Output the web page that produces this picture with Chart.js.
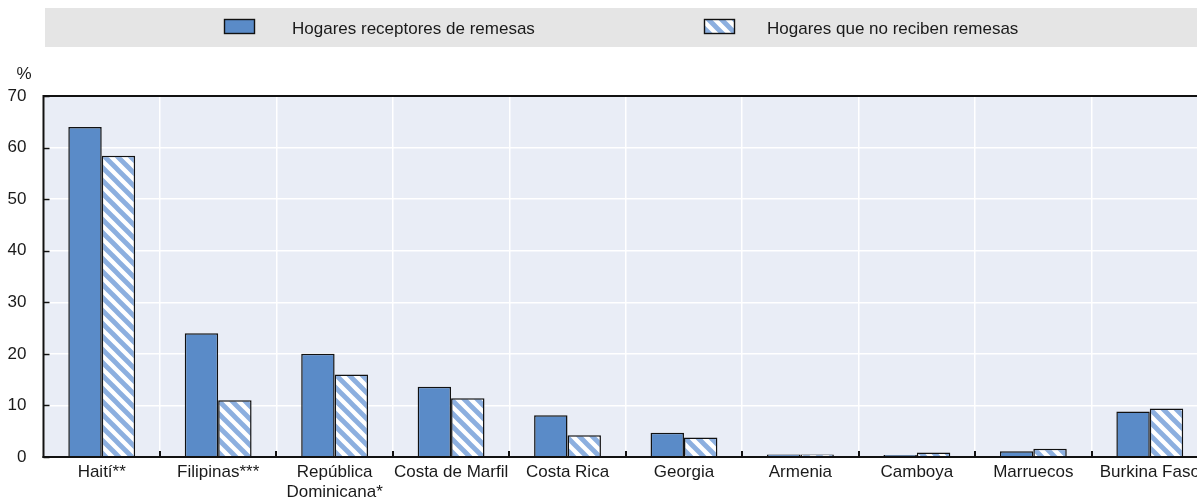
<!DOCTYPE html>
<html lang="es">
<head>
<meta charset="utf-8">
<title>Hogares y remesas</title>
<script src="https://cdn.jsdelivr.net/npm/chart.js@4/dist/chart.umd.min.js"></script>
<style>
  html, body { margin: 0; padding: 0; background: #ffffff; overflow: hidden; }
  #wrap { width: 1197px; height: 503px; overflow: hidden; position: relative; }
  #chart { display: block; }
</style>
</head>
<body>
<div id="wrap"><canvas id="chart" width="1210" height="503"></canvas></div>
<script>
// Countries along the horizontal axis
const categories = [
  'Haití**', 'Filipinas***', ['República', 'Dominicana*'], 'Costa de Marfil',
  'Costa Rica', 'Georgia', 'Armenia', 'Camboya', 'Marruecos', 'Burkina Faso'
];
// Share of households (%), by remittance status
const receptores = [64.0, 24.0, 20.0, 13.6, 8.1, 4.7, 0.5, 0.4, 1.1, 8.8];
const noReciben  = [58.4, 11.0, 16.0, 11.4, 4.2, 3.8, 0.5, 0.85, 1.6, 9.4];
const seriesNames = ['Hogares receptores de remesas', 'Hogares que no reciben remesas'];
const yTicks = [0, 10, 20, 30, 40, 50, 60, 70];
const unitLabel = '%';

const FAMILY = '"Liberation Sans", Arial, sans-serif';
const FONT_SIZE = 17;
const TEXT = '#1a1a1a';
const BLUE = '#5a8bc8';
const STRIPE = '#8cafdf';
const AXIS = '#111111';

// Diagonal "\" hatch used for the second series
function makeHatch() {
  const s = 13;
  const c = document.createElement('canvas');
  c.width = s; c.height = s;
  const g = c.getContext('2d');
  g.fillStyle = '#ffffff';
  g.fillRect(0, 0, s, s);
  g.strokeStyle = STRIPE;
  g.lineWidth = 4.8;
  g.lineCap = 'square';
  for (const off of [-s, 0, s]) {
    g.beginPath();
    g.moveTo(off, 0);
    g.lineTo(off + s, s);
    g.stroke();
  }
  return g.createPattern(c, 'repeat');
}
const hatch = makeHatch();

// Plot background, legend band, frame and inward tick marks
const decorPlugin = {
  id: 'decor',
  beforeDraw(chart) {
    const { ctx, chartArea: a } = chart;
    ctx.save();
    ctx.fillStyle = '#e9edf6';
    ctx.fillRect(a.left, a.top, a.right - a.left, a.bottom - a.top);

    // legend band
    ctx.fillStyle = '#e5e5e5';
    ctx.fillRect(45, 8, chart.width - 45, 39);
    const items = [
      { box: 224, text: 292, fill: BLUE },
      { box: 704, text: 767, fill: hatch }
    ];
    ctx.font = FONT_SIZE + 'px ' + FAMILY;
    ctx.textBaseline = 'alphabetic';
    ctx.textAlign = 'left';
    items.forEach((it, i) => {
      ctx.fillStyle = it.fill;
      ctx.fillRect(it.box, 19, 31, 15);
      ctx.strokeStyle = AXIS;
      ctx.lineWidth = 1.4;
      ctx.strokeRect(it.box + 0.5, 19.5, 30, 14);
      ctx.fillStyle = TEXT;
      ctx.fillText(chart.data.datasets[i].label, it.text, 33.5);
    });

    // unit label
    ctx.textAlign = 'center';
    ctx.fillText(unitLabel, 24, 78.5);
    ctx.restore();
  },
  afterDatasetsDraw(chart) {
    const { ctx, chartArea: a, scales } = chart;
    const x = scales.x, y = scales.y;
    ctx.save();
    ctx.strokeStyle = AXIS;
    // inward tick marks on the value axis
    ctx.lineWidth = 1.5;
    y.ticks.forEach(t => {
      const py = Math.round(y.getPixelForValue(t.value)) + 0.5;
      ctx.beginPath();
      ctx.moveTo(a.left, py);
      ctx.lineTo(a.left + 6, py);
      ctx.stroke();
    });
    // inward tick marks between categories
    ctx.lineWidth = 2;
    for (let i = 1; i < categories.length; i++) {
      const px = Math.round((x.getPixelForValue(i - 1) + x.getPixelForValue(i)) / 2);
      ctx.beginPath();
      ctx.moveTo(px, a.bottom);
      ctx.lineTo(px, a.bottom - 6);
      ctx.stroke();
    }
    // frame: top, left, zero line
    ctx.lineWidth = 1.8;
    ctx.beginPath();
    ctx.moveTo(a.left, a.top);
    ctx.lineTo(a.right, a.top);
    ctx.stroke();
    ctx.lineWidth = 2;
    ctx.beginPath();
    ctx.moveTo(a.left, a.top - 0.9);
    ctx.lineTo(a.left, a.bottom + 1);
    ctx.stroke();
    ctx.lineWidth = 2.2;
    ctx.beginPath();
    ctx.moveTo(a.left - 1, y.getPixelForValue(0));
    ctx.lineTo(a.right, y.getPixelForValue(0));
    ctx.stroke();
    ctx.restore();
  }
};

new Chart(document.getElementById('chart'), {
  type: 'bar',
  data: {
    labels: categories,
    datasets: [
      {
        label: seriesNames[0],
        data: receptores,
        backgroundColor: BLUE,
        borderColor: AXIS,
        borderWidth: 1.5,
        categoryPercentage: 0.574,
        barPercentage: 1.0
      },
      {
        label: seriesNames[1],
        data: noReciben,
        backgroundColor: hatch,
        borderColor: AXIS,
        borderWidth: 1.5,
        categoryPercentage: 0.574,
        barPercentage: 1.0
      }
    ]
  },
  options: {
    responsive: false,
    animation: false,
    devicePixelRatio: 1,
    layout: { padding: { top: 96, right: 2, bottom: 0, left: 0 } },
    plugins: {
      legend: { display: false },
      tooltip: { enabled: false }
    },
    scales: {
      x: {
        grid: { color: '#ffffff', lineWidth: 1.5, drawTicks: false, offset: true },
        border: { display: false },
        ticks: {
          color: TEXT,
          font: { family: FAMILY, size: FONT_SIZE, lineHeight: 1.15 },
          padding: 6,
          maxRotation: 0,
          autoSkip: false
        },
        afterFit(scale) { scale.height = 46; }
      },
      y: {
        min: 0,
        max: 70,
        afterBuildTicks(scale) { scale.ticks = yTicks.map(v => ({ value: v })); },
        grid: { color: '#ffffff', lineWidth: 1.5, drawTicks: false },
        border: { display: false },
        ticks: {
          color: TEXT,
          font: { family: FAMILY, size: FONT_SIZE },
          padding: 17
        },
        afterFit(scale) { scale.width = 43.5; }
      }
    }
  },
  plugins: [decorPlugin]
});
</script>
</body>
</html>
